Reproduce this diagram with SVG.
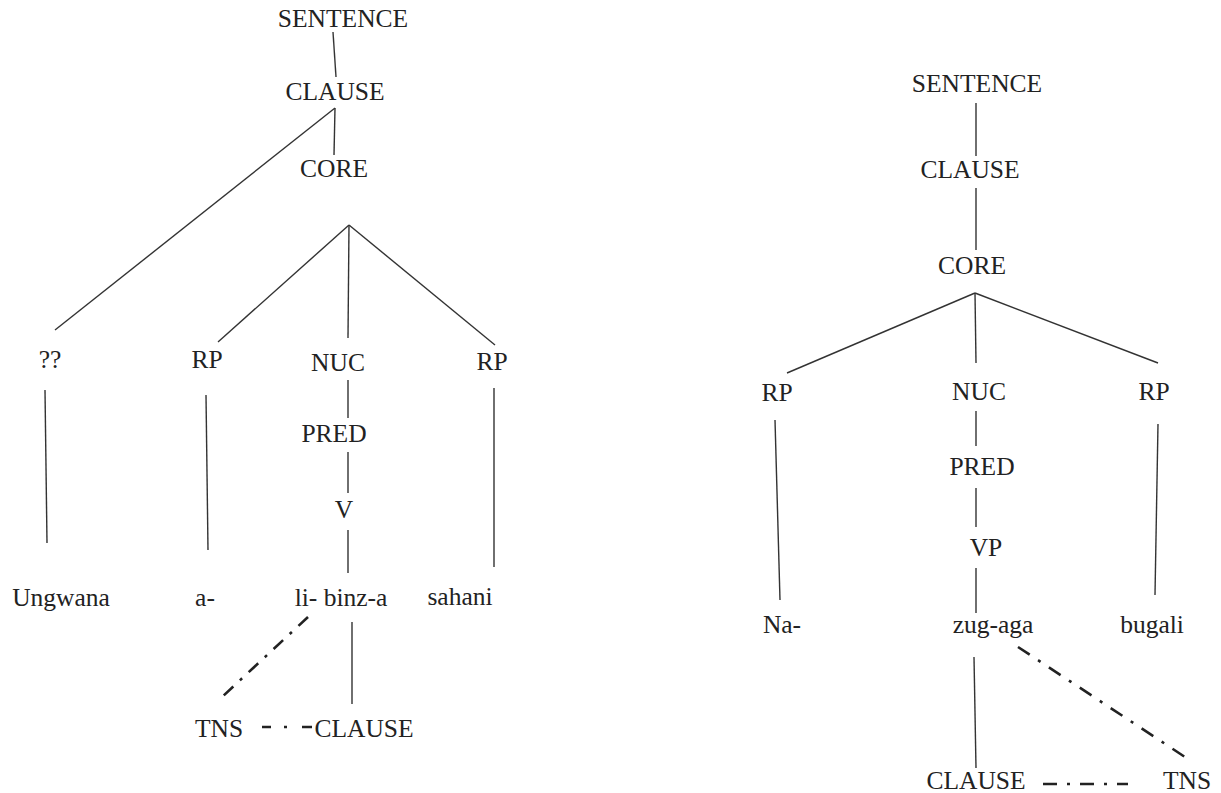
<svg xmlns="http://www.w3.org/2000/svg" width="1221" height="793" viewBox="0 0 1221 793">
  <style>
    .lbl { font-family: 'Liberation Serif', 'Times New Roman', Times, 'DejaVu Serif', serif; font-size: 25.5px; fill: #222; text-anchor: middle; }
    .edge { stroke: #333; stroke-width: 1.4; fill: none; stroke-linecap: butt; }
    .link { stroke: #222; stroke-width: 2.6; fill: none; }
  </style>
  <rect width="1221" height="793" fill="#fff"/>

  <!-- tree edges -->
  <g id="connectors">
    <!-- left tree -->
    <line class="edge" x1="333" y1="32" x2="336" y2="77"/>
    <line class="edge" x1="335" y1="108" x2="55" y2="330"/>
    <line class="edge" x1="335" y1="108" x2="334" y2="155"/>
    <line class="edge" x1="349" y1="225" x2="218" y2="342"/>
    <line class="edge" x1="349" y1="225" x2="348" y2="338"/>
    <line class="edge" x1="349" y1="225" x2="495" y2="345"/>
    <line class="edge" x1="45" y1="390" x2="47" y2="543"/>
    <line class="edge" x1="206" y1="395" x2="208" y2="550"/>
    <line class="edge" x1="494" y1="388" x2="494" y2="567"/>
    <line class="edge" x1="348" y1="380" x2="348" y2="418"/>
    <line class="edge" x1="348" y1="452" x2="348" y2="493"/>
    <line class="edge" x1="348" y1="530" x2="348" y2="573"/>
    <line class="edge" x1="352" y1="622" x2="352" y2="704"/>
    <line class="link" x1="308" y1="617" x2="222" y2="697" stroke-dasharray="13 9 3 9"/>
    <line class="link" x1="262" y1="727" x2="312" y2="727" stroke-dasharray="9 13 3 15 10"/>

    <!-- right tree -->
    <line class="edge" x1="976" y1="103" x2="976" y2="156"/>
    <line class="edge" x1="976" y1="188" x2="976" y2="250"/>
    <line class="edge" x1="975" y1="293" x2="787" y2="373"/>
    <line class="edge" x1="975" y1="293" x2="976" y2="363"/>
    <line class="edge" x1="975" y1="293" x2="1158" y2="363"/>
    <line class="edge" x1="775" y1="420" x2="780" y2="600"/>
    <line class="edge" x1="976" y1="411" x2="976" y2="446"/>
    <line class="edge" x1="976" y1="488" x2="976" y2="527"/>
    <line class="edge" x1="976" y1="568" x2="976" y2="613"/>
    <line class="edge" x1="1158" y1="424" x2="1155" y2="595"/>
    <line class="edge" x1="974" y1="657" x2="976" y2="768"/>
    <line class="link" x1="1018" y1="647" x2="1185" y2="757" stroke-dasharray="14 10 3 10"/>
    <line class="link" x1="1043" y1="784" x2="1128" y2="784" stroke-dasharray="14 10 3 10"/>
  </g>

  <g class="lbl" font-family="Liberation Serif, serif">
    <!-- left tree nodes -->
    <g id="l-sentence"><text x="343" y="27">SENTENCE</text></g>
    <g id="l-clause"><text x="335" y="100">CLAUSE</text></g>
    <g id="l-core"><text x="334" y="177">CORE</text></g>
    <g id="l-unknown"><text x="50" y="368">??</text></g>
    <g id="l-rp1"><text x="207" y="368">RP</text></g>
    <g id="l-nuc"><text x="338" y="371">NUC</text></g>
    <g id="l-rp2"><text x="492" y="370">RP</text></g>
    <g id="l-pred"><text x="334" y="442">PRED</text></g>
    <g id="l-v"><text x="344" y="518">V</text></g>
    <g id="l-ungwana"><text x="61" y="606">Ungwana</text></g>
    <g id="l-a"><text x="205" y="606">a-</text></g>
    <g id="l-libinza"><text x="341" y="606">li- binz-a</text></g>
    <g id="l-sahani"><text x="460" y="605">sahani</text></g>
    <g id="l-tns"><text x="219" y="737">TNS</text></g>
    <g id="l-clause2"><text x="364" y="737">CLAUSE</text></g>

    <!-- right tree nodes -->
    <g id="r-sentence"><text x="977" y="92">SENTENCE</text></g>
    <g id="r-clause"><text x="970" y="178">CLAUSE</text></g>
    <g id="r-core"><text x="972" y="274">CORE</text></g>
    <g id="r-rp1"><text x="777" y="401">RP</text></g>
    <g id="r-nuc"><text x="979" y="400">NUC</text></g>
    <g id="r-rp2"><text x="1154" y="400">RP</text></g>
    <g id="r-pred"><text x="982" y="475">PRED</text></g>
    <g id="r-vp"><text x="986" y="556">VP</text></g>
    <g id="r-na"><text x="782" y="633">Na-</text></g>
    <g id="r-zugaga"><text x="993" y="633">zug-aga</text></g>
    <g id="r-bugali"><text x="1152" y="633">bugali</text></g>
    <g id="r-clause2"><text x="976" y="789">CLAUSE</text></g>
    <g id="r-tns"><text x="1187" y="789">TNS</text></g>
  </g>
</svg>
